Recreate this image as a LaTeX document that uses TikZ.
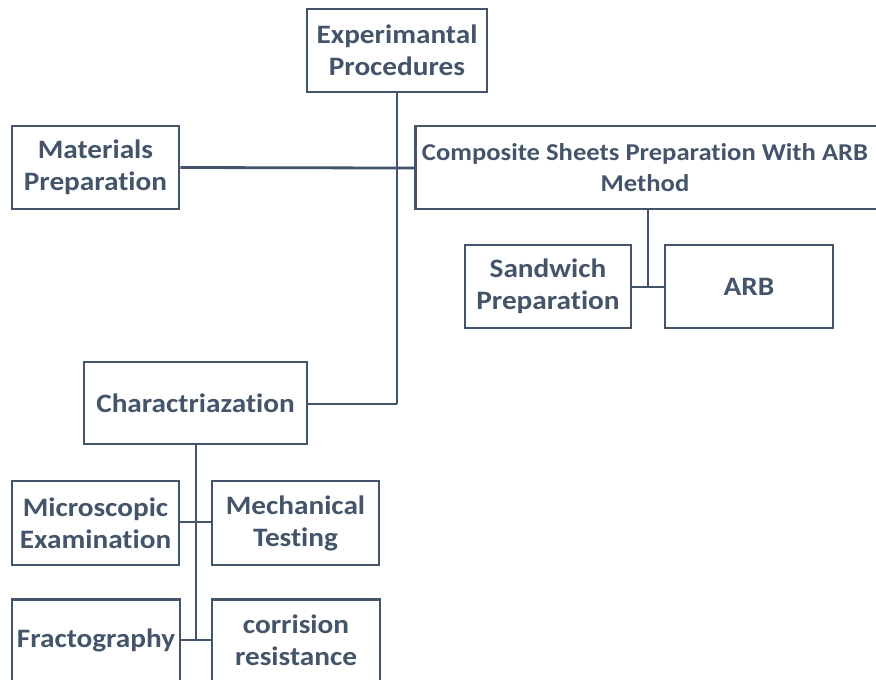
\documentclass[tikz,border=0pt]{standalone}
\usepackage{fontspec}
\setmainfont{Carlito}[FakeStretch=1.1,Ligatures=CommonOff]
\definecolor{ink}{HTML}{44546A}
\begin{document}
\begin{tikzpicture}[x=1pt,y=-1pt,
  txt/.style={text=ink,align=center,inner sep=0pt,font=\fontsize{26.6}{32}\selectfont\bfseries},
  small/.style={font=\fontsize{24.2}{31}\selectfont\bfseries},
  box/.style={txt,draw=ink,line width=2.8pt,fill=white},
  conn/.style={draw=ink,line width=2.8pt}]
\useasboundingbox (0,0) rectangle (876,680);
\clip (0,0) rectangle (876,680);
\fill[white] (0,0) rectangle (876,680);
\coordinate (j1) at (397,168);
\coordinate (j2) at (397,404);
\coordinate (j3) at (648,287);
\coordinate (j4) at (196,522);
\coordinate (j5) at (196,640);
% boxes
\node[box,minimum width=180pt,minimum height=83pt] (exp) at (397,50.5) {Experimantal\\Procedures};
\node[box,minimum width=167pt,minimum height=83pt] (mat) at (95.5,167.5) {Materials\\Preparation};
\node[box,minimum width=466pt,minimum height=83pt,anchor=west] (comp) at (414,167.5) {};
\node[txt,small] (comptext) at (645,167.5) {Composite Sheets Preparation With ARB\\Method};
\node[box,minimum width=166pt,minimum height=83pt] (sand) at (548,286.5) {Sandwich\\Preparation};
\node[box,minimum width=168pt,minimum height=83pt] (arb) at (749,286.5) {ARB};
\node[box,minimum width=223pt,minimum height=82pt] (char) at (195.5,403) {Charactriazation};
\node[box,minimum width=167pt,minimum height=84pt] (mic) at (95.5,523) {Microscopic\\Examination};
\node[box,minimum width=167pt,minimum height=84pt] (mech) at (295.5,523) {Mechanical\\Testing};
\node[box,minimum width=168pt,minimum height=100pt,anchor=north] (frac) at (96,598) {};
\node[txt] (fractext) at (96,640) {Fractography};
\node[box,minimum width=168pt,minimum height=100pt,anchor=north] (corr) at (296,598) {};
\node[txt] (corrtext) at (296,640) {corrision\\resistance};
% connectors
\draw[conn] (exp.south) -- (j2);
\draw[conn] (mat.east) -- (j1) -- (comp.west |- j1);
\draw[conn] (char.east |- j2) -- (j2);
\draw[conn] (comp.south -| j3) -- (j3);
\draw[conn] (sand.east |- j3) -- (j3) -- (arb.west |- j3);
\draw[conn] (char.south -| j4) -- (j5);
\draw[conn] (mic.east |- j4) -- (j4) -- (mech.west |- j4);
\draw[conn] (frac.east |- j5) -- (j5) -- (corr.west |- j5);
\end{tikzpicture}
\end{document}
